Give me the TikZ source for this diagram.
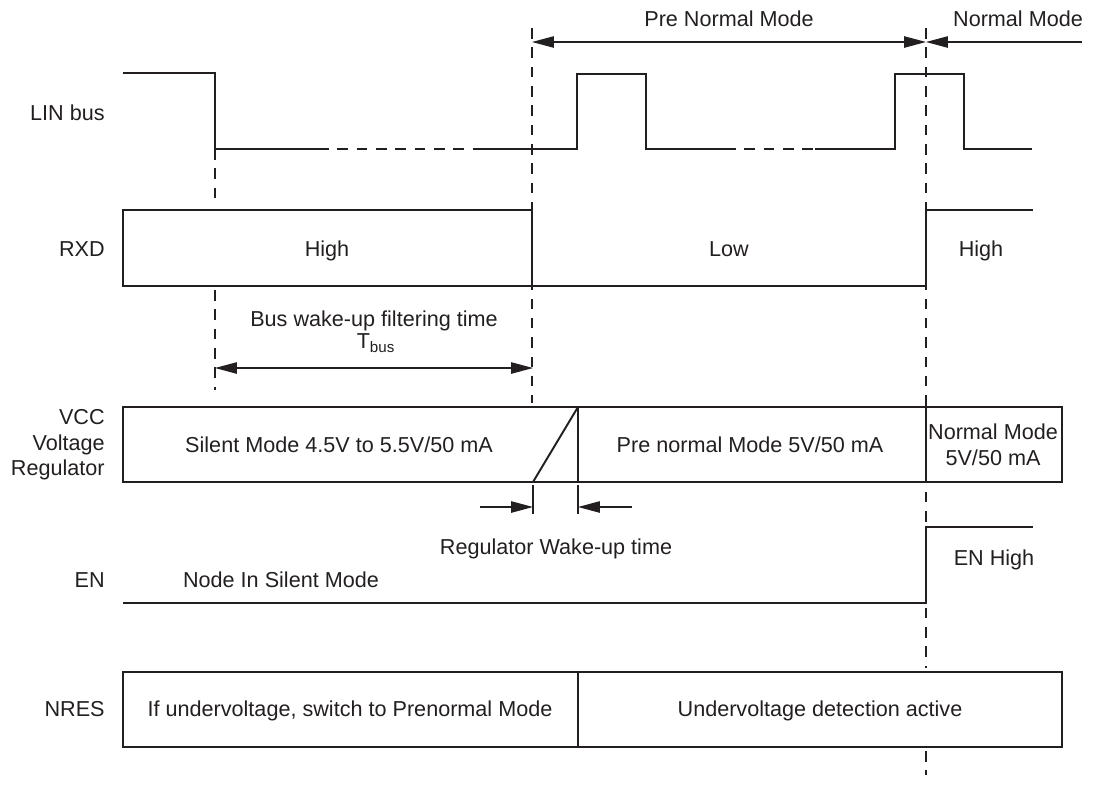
\documentclass[tikz,border=0pt]{standalone}
\usepackage{fontspec}
\setmainfont{Liberation Sans}
\usetikzlibrary{arrows.meta, positioning}

\definecolor{ink}{RGB}{35,31,32}

\tikzset{
    wave/.style={line width=1.3pt, draw=ink},
    wavegap/.style={line width=0.8pt, draw=ink, dash pattern=on 6pt off 5pt},
    frame/.style={line width=1.1pt, draw=ink},
    guide/.style={line width=0.7pt, draw=ink, dash pattern=on 6pt off 5pt},
    dim/.style={line width=0.7pt, draw=ink},
    txt/.style={text=ink, inner sep=0pt, text height=8.8pt, text depth=0pt},
    mtxt/.style={text=ink, inner sep=0pt, align=center},
    sig/.style={text=ink, inner sep=0pt, anchor=east, align=right}
}

\begin{document}
\begin{tikzpicture}[x=0.02cm, y=-0.02cm, >={Triangle[length=12.5pt, width=6.5pt]},
    font=\fontsize{12.3}{14.6}\selectfont]
    \useasboundingbox (0,0) rectangle (1099,796);

    % Mode arrows on top
    \node[txt] (modePre) at (729,19) {Pre Normal Mode};
    \node[txt] (modeNormal) at (1018,19) {Normal Mode};
    \coordinate (pnL) at (532,42);
    \coordinate (pnR) at (926,42);
    \coordinate (nmR) at (1082,42);
    \draw[dim, <->] (pnL) -- (pnR);
    \draw[dim, ->] (nmR) -- (pnR);

    % Dashed time marks
    \draw[guide] (215,149) -- (215,206);
    \draw[guide] (215,290) -- (215,390);
    \draw[guide] (532,28) -- (532,403);
    \draw[guide] (926,28) -- (926,668);
    \draw[guide] (926,751) -- (926,775);

    % Signal names
    \node[sig] (lblLin) at (105,113) {LIN bus};
    \node[sig] (lblRxd) at (105,249) {RXD};
    \node[sig] (lblVcc) at (105,445) {VCC\\Voltage\\Regulator};
    \node[sig] (lblEn) at (105,580) {EN};
    \node[sig] (lblNres) at (105,709) {NRES};

    % LIN bus
    \draw[wave] (123,73) -- (215,73) -- (215,149) -- (318,149);
    \draw[wavegap] (318,149) -- (476,149);
    \draw[wave] (476,149) -- (577,149) -- (577,74) -- (646,74) -- (646,149) -- (725,149);
    \draw[wavegap] (725,149) -- (815,149);
    \draw[wave] (815,149) -- (895,149) -- (895,74) -- (964,74) -- (964,149) -- (1032,149);

    % RXD
    \draw[frame] (532,210) -- (123,210) -- (123,286) -- (926,286) -- (926,210) -- (1033,210);
    \draw[frame] (532,210) -- (532,286);
    \node[txt] (rxdHigh) at (327,249) {High};
    \node[txt] (rxdLow) at (729,249) {Low};
    \node[txt] (rxdHighB) at (981,249) {High};

    % Bus wake-up filtering time
    \node[txt] (tbusTxt) at (374,319) {Bus wake-up filtering time};
    \node[txt] (tbusSym) at (376,341) {T\textsubscript{bus}};
    \coordinate (tbL) at (215,368);
    \coordinate (tbR) at (533,368);
    \draw[dim, <->] (tbL) -- (tbR);

    % VCC voltage regulator
    \draw[frame] (123,407) rectangle (1062,482);
    \draw[frame] (578,407) -- (578,482);
    \draw[frame] (926,407) -- (926,482);
    \draw[frame] (533,482) -- (578,407);
    \node[txt] (vccSilent) at (339,445) {Silent Mode 4.5V to 5.5V/50 mA};
    \node[txt] (vccPre) at (750,445) {Pre normal Mode 5V/50 mA};
    \node[mtxt] (vccNormal) at (993,445) {Normal Mode\\5V/50 mA};

    % Regulator wake-up time
    \coordinate (rwL) at (533,507);
    \coordinate (rwR) at (578,507);
    \coordinate (rwLs) at (480,507);
    \coordinate (rwRs) at (632,507);
    \draw[dim] (533,485) -- (533,514);
    \draw[dim] (578,485) -- (578,514);
    \draw[dim, ->] (rwLs) -- (rwL);
    \draw[dim, ->] (rwRs) -- (rwR);
    \node[txt] (regTxt) at (556,547) {Regulator Wake-up time};

    % EN
    \draw[frame] (123,603) -- (926,603) -- (926,527) -- (1033,527);
    \node[txt] (enSilent) at (281,580) {Node In Silent Mode};
    \node[txt] (enHigh) at (994,558) {EN High};

    % NRES
    \draw[frame] (123,672) rectangle (1062,747);
    \draw[frame] (578,672) -- (578,747);
    \node[txt] (nresUv) at (350,709) {If undervoltage, switch to Prenormal Mode};
    \node[txt] (nresAct) at (820,709) {Undervoltage detection active};

\end{tikzpicture}
\end{document}
